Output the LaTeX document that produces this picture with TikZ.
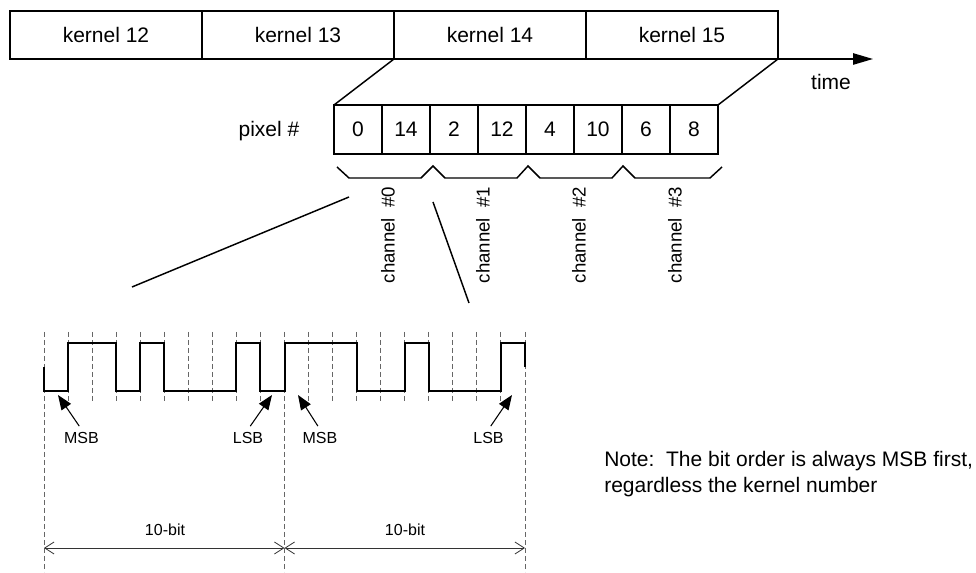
\documentclass[tikz,border=0pt]{standalone}
\usepackage{fontspec}
\setmainfont{Liberation Sans}
\usetikzlibrary{arrows.meta,calc}
\tikzset{
  kbox/.style={draw, line width=1.2pt, minimum width=144pt, minimum height=36pt,
    inner sep=0pt, outer sep=0pt, font=\fontsize{15.75}{18}\selectfont},
  pbox/.style={kbox, minimum width=36pt, minimum height=36.75pt},
  bigtxt/.style={font=\fontsize{15.75}{19.5}\selectfont, inner sep=0pt},
  chtxt/.style={font=\fontsize{14}{16}\selectfont, rotate=90, inner sep=0pt},
  smtxt/.style={font=\fontsize{12}{14}\selectfont, inner sep=2pt},
  solidln/.style={line width=1.1pt},
  wave/.style={line width=1.5pt, line join=miter},
  dashgrid/.style={draw=black!60, line width=0.7pt, dash pattern=on 3.75pt off 2.25pt},
  dimln/.style={draw=black!80, line width=0.6pt,
    {Straight Barb[length=7pt,width=9pt]}-{Straight Barb[length=7pt,width=9pt]}},
  ptrarrow/.style={line width=0.8pt, -{Triangle[length=11pt,width=8.5pt]}, shorten <=3pt},
  timearrow/.style={line width=1.2pt, -{Triangle[length=15pt,width=8.5pt]}},
}
\begin{document}
\begin{tikzpicture}[x=0.75pt,y=-0.75pt]
\useasboundingbox (0,0) rectangle (976,573);

% kernel bar
\node[kbox] (k12) at (106,35) {kernel 12};
\node[kbox] (k13) at (298,35) {kernel 13};
\node[kbox] (k14) at (490,35) {kernel 14};
\node[kbox] (k15) at (682,35) {kernel 15};
\coordinate (tend) at (873,59);
\draw[timearrow] (k15.south east) -- (tend);
\node[bigtxt] (time) at (831,82) {time};

% pixel boxes
\node[pbox] (p0) at (358,129.5) {0};
\node[pbox] (p1) at (406,129.5) {14};
\node[pbox] (p2) at (454,129.5) {2};
\node[pbox] (p3) at (502,129.5) {12};
\node[pbox] (p4) at (550,129.5) {4};
\node[pbox] (p5) at (598,129.5) {10};
\node[pbox] (p6) at (646,129.5) {6};
\node[pbox] (p7) at (694,129.5) {8};
\node[bigtxt] (pixlbl) at (269,131) {pixel \#};

\draw[solidln] (k14.south west) -- (p0.north west);
\draw[solidln] (k15.south east) -- (p7.north east);

% braces
\draw[solidln] (337,167) -- (349,178) -- (421,178) -- (433,166) -- (445,178)
  -- (517,178) -- (528,166) -- (540,178) -- (612,178) -- (623,166) -- (635,178)
  -- (710,178) -- (722,167);

\node[chtxt] (ch0) at (388,235) {channel~~\#0};
\node[chtxt] (ch1) at (483,235) {channel~~\#1};
\node[chtxt] (ch2) at (579,235) {channel~~\#2};
\node[chtxt] (ch3) at (675,235) {channel~~\#3};

% zoom lines
\coordinate (zA1) at (349,197);
\coordinate (zA2) at (132,287);
\coordinate (zB1) at (433,202);
\coordinate (zB2) at (469,303);
\draw[solidln] (zA1) -- (zA2);
\draw[solidln] (zB1) -- (zB2);

% timing grid
\foreach \k in {0,...,20} \coordinate (t\k) at ({44+24.05*\k},332);
\coordinate (hi) at (0,343);
\coordinate (lo) at (0,391);
\coordinate (mid) at (0,367);
\foreach \k in {1,...,9,11,12,13,14,15,16,17,18,19}
  \draw[dashgrid] (t\k) -- (t\k |- 0,402);
\foreach \k in {0,10,20}
  \draw[dashgrid] (t\k) -- (t\k |- 0,572);

% waveform
\draw[wave] (t0|-mid) -- (t0|-lo) -- (t1|-lo) -- (t1|-hi) -- (t3|-hi) -- (t3|-lo)
  -- (t4|-lo) -- (t4|-hi) -- (t5|-hi) -- (t5|-lo) -- (t8|-lo) -- (t8|-hi)
  -- (t9|-hi) -- (t9|-lo) -- (t10|-lo) -- (t10|-hi) -- (t13|-hi) -- (t13|-lo)
  -- (t15|-lo) -- (t15|-hi) -- (t16|-hi) -- (t16|-lo) -- (t19|-lo) -- (t19|-hi)
  -- (t20|-hi) -- (t20|-mid);

% MSB / LSB pointers
\node[smtxt] (msbA) at (81.5,438) {MSB};
\node[smtxt] (lsbA) at (248,438) {LSB};
\node[smtxt] (msbB) at (320,438) {MSB};
\node[smtxt] (lsbB) at (488.5,438) {LSB};
\coordinate (tipmA) at (58,395);
\coordinate (tiplA) at (272,395);
\coordinate (tipmB) at (298,395);
\coordinate (tiplB) at (512,395);
\draw[ptrarrow] (msbA.north) -- (tipmA);
\draw[ptrarrow] (lsbA.north) -- (tiplA);
\draw[ptrarrow] (msbB.north) -- (tipmB);
\draw[ptrarrow] (lsbB.north) -- (tiplB);

% dimensions
\coordinate (d0) at (t0 |- 0,548);
\coordinate (d1) at (t10 |- 0,548);
\coordinate (d2) at (t20 |- 0,548);
\draw[dimln] (d0) -- (d1);
\draw[dimln] (d1) -- (d2);
\node[smtxt] (bitsA) at (165,530) {10-bit};
\node[smtxt] (bitsB) at (405,530) {10-bit};

% note
\node[bigtxt, anchor=west, align=left] (note) at (604,474)
  {Note:\ \ The bit order is always MSB first,\\regardless the kernel number};
\end{tikzpicture}
\end{document}
